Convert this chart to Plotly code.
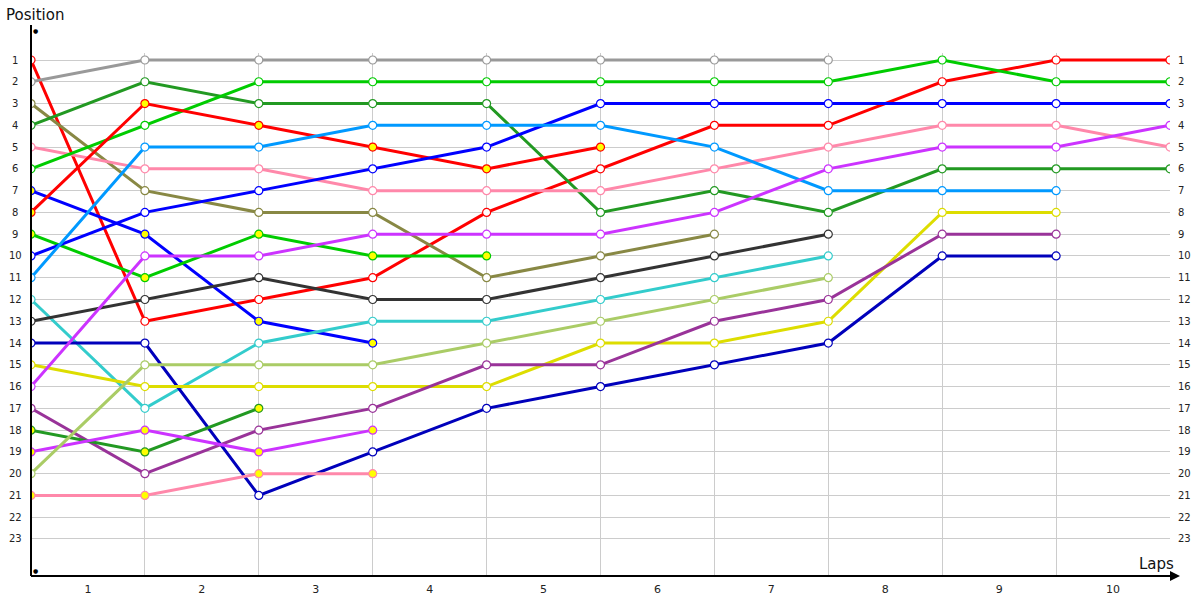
import plotly.graph_objects as go

# ---------------- data ----------------
lap_points = list(range(0, 11))           # lap boundaries (0 = start)
lap_labels = ["1", "2", "3", "4", "5", "6", "7", "8", "9", "10"]
lap_label_pos = [0.5, 1.5, 2.5, 3.5, 4.5, 5.5, 6.5, 7.5, 8.5, 9.5]
positions = list(range(1, 24))

s01 = [1, 13, 12, 11, 8, 6, 4, 4, 2, 1, 1]
s02 = [2, 1, 1, 1, 1, 1, 1, 1]
s03 = [3, 7, 8, 8, 11, 10, 9]
s04 = [4, 2, 3, 3, 3, 8, 7, 8, 6, 6, 6]
s05 = [5, 6, 6, 7, 7, 7, 6, 5, 4, 4, 5]
s06 = [6, 4, 2, 2, 2, 2, 2, 2, 1, 2, 2]
s07 = [7, 9, 13, 14]
s08 = [8, 3, 4, 5, 6, 5]
s09 = [9, 11, 9, 10, 10]
s10 = [10, 8, 7, 6, 5, 3, 3, 3, 3, 3, 3]
s11 = [11, 5, 5, 4, 4, 4, 5, 7, 7, 7]
s12 = [12, 17, 14, 13, 13, 12, 11, 10]
s13 = [13, 12, 11, 12, 12, 11, 10, 9]
s14 = [14, 14, 21, 19, 17, 16, 15, 14, 10, 10]
s15 = [15, 16, 16, 16, 16, 14, 14, 13, 8, 8]
s16 = [16, 10, 10, 9, 9, 9, 8, 6, 5, 5, 4]
s17 = [17, 20, 18, 17, 15, 15, 13, 12, 9, 9]
s18 = [18, 19, 17]
s19 = [19, 18, 19, 18]
s20 = [20, 15, 15, 15, 14, 13, 12, 11]
s21 = [21, 21, 20, 20]

series = [s01, s02, s03, s04, s05, s06, s07, s08, s09, s10, s11,
          s12, s13, s14, s15, s16, s17, s18, s19, s20, s21]
colors = ["#FF0000", "#999999", "#888844", "#229922", "#FF88AA", "#00CC00",
          "#0000FF", "#FF0000", "#00CC00", "#0000FF", "#0099FF", "#33CCCC",
          "#333333", "#0000BB", "#DDDD00", "#CC33FF", "#993399", "#229922",
          "#CC33FF", "#AACC66", "#FF88AA"]
flagged = [False, False, False, False, False, False, True, True, True, False,
           False, False, False, False, False, False, False, True, True, False, True]

# ---------------- figure ----------------
fig = go.Figure()
for vals, col, flag in zip(series, colors, flagged):
    fig.add_trace(go.Scatter(
        x=lap_points[:len(vals)], y=vals, mode="lines+markers",
        line=dict(color=col, width=3),
        marker=dict(size=8, color="#FFFF00" if flag else "#FFFFFF",
                    line=dict(color=col, width=1.2)),
        hoverinfo="skip", showlegend=False))

W, H = 1200, 600
L, R, T, B = 31, 30, 53, 24
plot_w = W - L - R
plot_h = H - T - B
y_top, y_bot = 0.6785, 24.70

fig.update_layout(
    width=W, height=H,
    margin=dict(l=L, r=R, t=T, b=B, pad=0, autoexpand=False),
    paper_bgcolor="white", plot_bgcolor="white",
    showlegend=False,
    font=dict(family="DejaVu Sans", color="#222222"),
    xaxis=dict(range=[0, 10], tickvals=lap_label_pos, ticktext=lap_labels,
               showgrid=False, zeroline=False, showline=False, ticks="",
               ticklabelstandoff=5, automargin=False,
               tickfont=dict(size=11, color="#222222"),
               minor=dict(tickvals=lap_points, showgrid=True,
                          gridcolor="#CCCCCC", gridwidth=1, ticks="")),
    yaxis=dict(range=[y_bot, y_top], tickvals=positions, showticklabels=False,
               showgrid=True, gridcolor="#CCCCCC", gridwidth=1, automargin=False,
               zeroline=False, showline=False, ticks=""),
)

shapes = []
# y axis line extending above plot
shapes.append(dict(type="line", xref="paper", yref="paper",
                   x0=0, x1=0, y0=0, y1=(H - B - 25) / plot_h,
                   line=dict(color="black", width=2)))
# x axis line extending to arrow
shapes.append(dict(type="line", xref="paper", yref="paper",
                   x0=0, x1=(1170 - L) / plot_w, y0=0, y1=0,
                   line=dict(color="black", width=2)))
fig.update_layout(shapes=shapes)

# arrowhead on x axis
fig.add_annotation(xref="paper", yref="paper", x=(1180 - L) / plot_w, y=0,
                   ax=-14, ay=0, text="", showarrow=True, arrowhead=2,
                   arrowsize=1, arrowwidth=2, arrowcolor="black")
# dots at axis ends
fig.add_annotation(xref="paper", yref="paper", x=0, y=(H - B - 25) / plot_h,
                   text="●", showarrow=False, font=dict(size=6, color="black"))
fig.add_annotation(xref="paper", yref="paper", x=0, y=0,
                   text="●", showarrow=False, font=dict(size=6, color="black"))

# position labels left and right
for p in positions:
    fig.add_annotation(xref="paper", yref="y", x=0, y=p, xshift=-16,
                       xanchor="center", yanchor="middle", text=str(p),
                       showarrow=False, font=dict(size=10, color="#222222"))
    fig.add_annotation(xref="paper", yref="y", x=1, y=p, xshift=6,
                       xanchor="left", yanchor="middle", text=str(p),
                       showarrow=False, font=dict(size=10, color="#222222"))

# titles
fig.add_annotation(xref="paper", yref="paper", x=(4 - L) / plot_w,
                   y=(H - B - 15) / plot_h, xanchor="left", yanchor="middle",
                   text="Position", showarrow=False,
                   font=dict(size=15, color="#111111"))
fig.add_annotation(xref="paper", yref="paper", x=(1176 - L) / plot_w,
                   y=(H - B - 564) / plot_h, xanchor="right", yanchor="middle",
                   text="Laps", showarrow=False,
                   font=dict(size=15, color="#111111"))

fig.write_html("out.html", config={"displayModeBar": False})

# remove the browser's default page margin so the figure sits at (0, 0)
with open("out.html", "r", encoding="utf-8") as fh:
    html = fh.read()
html = html.replace("<head>", "<head><style>html,body{margin:0;padding:0;overflow:hidden;}</style>", 1)
with open("out.html", "w", encoding="utf-8") as fh:
    fh.write(html)
